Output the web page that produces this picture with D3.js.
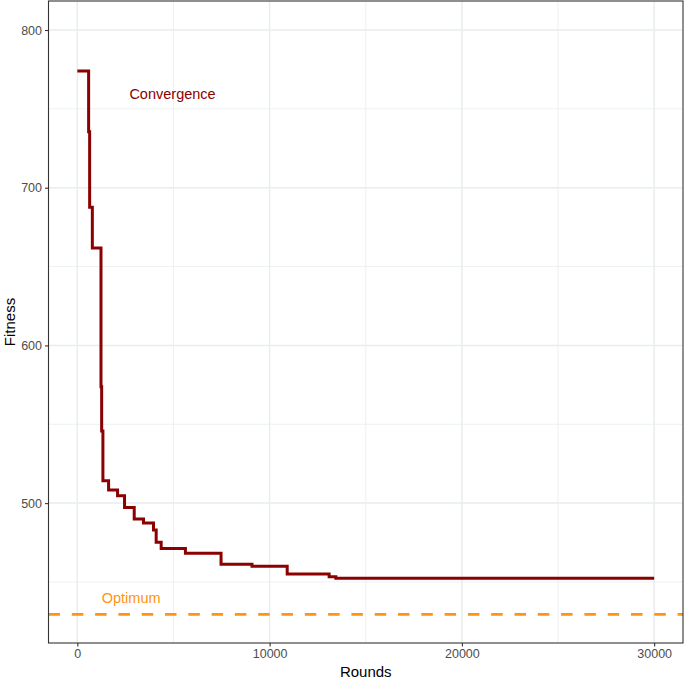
<!DOCTYPE html>
<html>
<head>
<meta charset="utf-8">
<script src="https://cdn.jsdelivr.net/npm/d3@7"></script>
<style>
  body { margin: 0; background: #fff; }
  text { font-family: "Liberation Sans", Arial, sans-serif; }
</style>
</head>
<body>
<div id="chart"></div>
<script>
'use strict'

// step changes of the best fitness: round where the new value starts
const rounds = [0, 587, 640, 780, 1230, 1265, 1330, 1625, 2092, 2455, 2958, 3441, 3960, 4100, 4360, 5621, 7474, 9083, 10915, 13095, 13443, 30000]
const fitness = [774, 735.5, 687.6, 661.8, 573.8, 545.7, 514.2, 508.3, 504.7, 497.3, 490, 487.4, 483, 475.2, 471.3, 468.2, 461.2, 460, 455, 453.3, 452.3, 452.3]
const optimum = 429.5

const xTicks = [0, 10000, 20000, 30000]
const xMinor = [5000, 15000, 25000]
const yTicks = [500, 600, 700, 800]
const yMinor = [450, 550, 650, 750]

const svgWidth = 685, svgHeight = 682
const margin = {left: 48.5, right: 2, top: 1, bottom: 39}

const svg = d3.select('#chart').append('svg')
    .attr('width', svgWidth)
    .attr('height', svgHeight)

const x = d3.scaleLinear().domain([-1500, 31500]).range([margin.left, svgWidth - margin.right])
const y = d3.scaleLinear().domain([411.3, 818.4]).range([svgHeight - margin.bottom, margin.top])

const grid = svg.append('g')
const gridColor = '#e8eded'

// minor grid
grid.selectAll('.xminor').data(xMinor).join('line')
    .attr('x1', d => x(d)).attr('x2', d => x(d))
    .attr('y1', y.range()[0]).attr('y2', y.range()[1])
    .attr('stroke', gridColor).attr('stroke-width', 0.8)
grid.selectAll('.yminor').data(yMinor).join('line')
    .attr('y1', d => y(d)).attr('y2', d => y(d))
    .attr('x1', x.range()[0]).attr('x2', x.range()[1])
    .attr('stroke', gridColor).attr('stroke-width', 0.8)
// major grid
grid.selectAll('.xmajor').data(xTicks).join('line')
    .attr('x1', d => x(d)).attr('x2', d => x(d))
    .attr('y1', y.range()[0]).attr('y2', y.range()[1])
    .attr('stroke', gridColor).attr('stroke-width', 1.5)
grid.selectAll('.ymajor').data(yTicks).join('line')
    .attr('y1', d => y(d)).attr('y2', d => y(d))
    .attr('x1', x.range()[0]).attr('x2', x.range()[1])
    .attr('stroke', gridColor).attr('stroke-width', 1.5)

// optimum line
svg.append('line')
    .attr('x1', x.range()[0]).attr('x2', x.range()[1])
    .attr('y1', y(optimum)).attr('y2', y(optimum))
    .attr('stroke', '#ff9414')
    .attr('stroke-width', 2.8)
    .attr('stroke-dasharray', '11.5 11.8')

// convergence step line
const pts = rounds.map((r, i) => [r, fitness[i]])
svg.append('path')
    .datum(pts)
    .attr('fill', 'none')
    .attr('stroke', '#8b0000')
    .attr('stroke-width', 3)
    .attr('d', d3.line().x(d => x(d[0])).y(d => y(d[1])).curve(d3.curveStepAfter))

// annotations
svg.append('text')
    .attr('x', x(4950)).attr('y', y(759) + 4)
    .attr('text-anchor', 'middle')
    .attr('fill', '#8b0000')
    .style('font-size', '14.5px')
    .text('Convergence')
svg.append('text')
    .attr('x', x(2800)).attr('y', y(441) + 7)
    .attr('text-anchor', 'middle')
    .attr('fill', '#ff9414')
    .style('font-size', '14.5px')
    .text('Optimum')

// panel border
svg.append('rect')
    .attr('x', margin.left).attr('y', margin.top)
    .attr('width', svgWidth - margin.left - margin.right)
    .attr('height', svgHeight - margin.top - margin.bottom)
    .attr('fill', 'none')
    .attr('stroke', '#333333')
    .attr('stroke-width', 1.1)

// axes
const xAxis = svg.append('g')
    .attr('transform', `translate(0,${y.range()[0]})`)
    .call(d3.axisBottom(x).tickValues(xTicks).tickSize(3.5).tickPadding(3).tickFormat(d3.format('d')))
const yAxis = svg.append('g')
    .attr('transform', `translate(${margin.left},0)`)
    .call(d3.axisLeft(y).tickValues(yTicks).tickSize(3.5).tickPadding(3).tickFormat(d3.format('d')))

;[xAxis, yAxis].forEach(a => {
    a.select('.domain').remove()
    a.selectAll('.tick line').attr('stroke', '#333333').attr('stroke-width', 1.1)
    a.selectAll('.tick text').attr('fill', '#4d4d4d')
        .style('font-size', '12.5px')
        .style('font-family', '"Liberation Sans", Arial, sans-serif')
})

// axis titles
svg.append('text')
    .attr('x', (x.range()[0] + x.range()[1]) / 2).attr('y', 677)
    .attr('text-anchor', 'middle')
    .style('font-size', '15px')
    .text('Rounds')
svg.append('text')
    .attr('transform', `translate(15,${(y.range()[0] + y.range()[1]) / 2}) rotate(-90)`)
    .attr('text-anchor', 'middle')
    .style('font-size', '15px')
    .text('Fitness')
</script>
</body>
</html>
